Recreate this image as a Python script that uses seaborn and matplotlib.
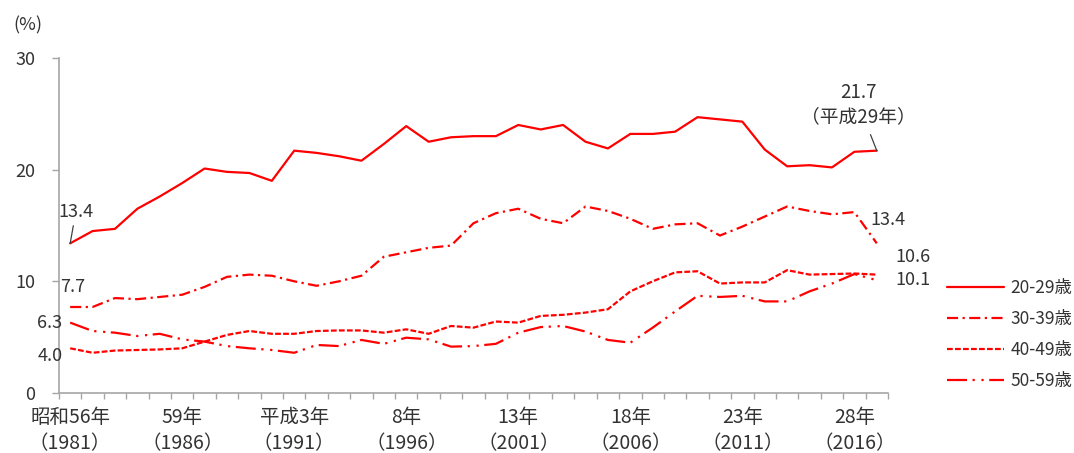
import matplotlib
matplotlib.use("Agg")
import matplotlib.pyplot as plt
import numpy as np
import pandas as pd
import seaborn as sns

# Survey years 1981-2017 (昭和56年 - 平成29年)
years = list(range(1981, 2018))

age_20_29 = [13.4, 14.5, 14.7, 16.5, 17.6, 18.8, 20.1, 19.8, 19.7, 19.0,
             21.7, 21.5, 21.2, 20.8, 22.3, 23.9, 22.5, 22.9, 23.0, 23.0,
             24.0, 23.6, 24.0, 22.5, 21.9, 23.2, 23.2, 23.4, 24.7, 24.5,
             24.3, 21.8, 20.3, 20.4, 20.2, 21.6, 21.7]
age_30_39 = [7.7, 7.7, 8.5, 8.4, 8.6, 8.8, 9.5, 10.4, 10.6, 10.5,
             10.0, 9.6, 10.0, 10.5, 12.2, 12.6, 13.0, 13.2, 15.2, 16.1,
             16.5, 15.6, 15.2, 16.7, 16.3, 15.6, 14.7, 15.1, 15.2, 14.1,
             14.9, 15.8, 16.7, 16.3, 16.0, 16.2, 13.4]
age_40_49 = [4.0, 3.6, 3.8, 3.85, 3.9, 4.0, 4.6, 5.2, 5.55, 5.3,
             5.3, 5.55, 5.6, 5.6, 5.4, 5.7, 5.3, 6.0, 5.85, 6.4,
             6.3, 6.9, 7.0, 7.2, 7.5, 9.1, 10.0, 10.8, 10.9, 9.8,
             9.9, 9.9, 11.0, 10.6, 10.65, 10.7, 10.6]
age_50_59 = [6.3, 5.55, 5.4, 5.1, 5.3, 4.8, 4.6, 4.2, 4.0, 3.85,
             3.6, 4.3, 4.2, 4.75, 4.4, 4.95, 4.8, 4.15, 4.2, 4.4,
             5.4, 5.9, 6.0, 5.5, 4.75, 4.5, 5.85, 7.3, 8.7, 8.6,
             8.7, 8.2, 8.2, 9.1, 9.8, 10.65, 10.1]

groups = ["20-29歳", "30-39歳", "40-49歳", "50-59歳"]
series = [age_20_29, age_30_39, age_40_49, age_50_59]

tick_years = [1981, 1986, 1991, 1996, 2001, 2006, 2011, 2016]
tick_labels = ["昭和56年\n（1981）", "59年\n（1986）", "平成3年\n（1991）",
               "8年\n（1996）", "13年\n（2001）", "18年\n（2006）",
               "23年\n（2011）", "28年\n（2016）"]

# long-form table for seaborn
frames = []
for g, vals in zip(groups, series):
    frames.append(pd.DataFrame({"idx": np.arange(len(years)),
                                "year": years, "value": vals, "group": g}))
df = pd.concat(frames, ignore_index=True)

sns.set_theme(style="white")
plt.rcParams["font.family"] = ["Noto Sans CJK JP", "DejaVu Sans"]

RED = "#FF0000"
TXT = "#333333"
AXC = "#A6A6A6"

fig = plt.figure(figsize=(10.74, 4.53), dpi=100)
ax = fig.add_axes([0.0549, 0.1325, 0.7719, 0.7395])

palette = {g: RED for g in groups}
dashes = {
    "20-29歳": "",
    "30-39歳": (5.0, 2.0, 1.0, 2.0),
    "40-49歳": (2.6, 1.0),
    "50-59歳": (9.0, 2.5, 1.0, 3.0, 1.0, 2.5),
}
sns.lineplot(data=df, x="idx", y="value", hue="group", style="group",
             palette=palette, dashes=dashes, linewidth=1.6, ax=ax,
             hue_order=groups, style_order=groups)

n = len(years)
ax.set_xlim(-0.5, n - 0.5)
ax.set_ylim(0, 30)
ax.set_yticks([0, 10, 20, 30])
ax.set_xticks([years.index(y) for y in tick_years])
ax.set_xticklabels(tick_labels, linespacing=1.3)
ax.set_xticks(np.arange(-0.5, n, 1.0), minor=True)
ax.tick_params(axis="x", which="major", length=0, pad=10, labelsize=14,
               colors=TXT)
ax.tick_params(axis="x", which="minor", length=4, width=1, color=AXC,
               direction="out", bottom=True)
ax.tick_params(axis="y", which="major", length=5, width=1, color=AXC,
               direction="out", left=True, pad=12, labelsize=13,
               labelcolor=TXT)
ax.set_xlabel("")
ax.set_ylabel("")
for side in ("top", "right"):
    ax.spines[side].set_visible(False)
for side in ("left", "bottom"):
    ax.spines[side].set_color(AXC)
    ax.spines[side].set_linewidth(1.2)
ax.grid(False)

ax.text(-0.037, 1.098, "(%)", transform=ax.transAxes, ha="center",
        va="center", fontsize=13, color=TXT)

# value labels
lead = dict(arrowstyle="-", color="#404040", lw=0.9, shrinkA=1, shrinkB=0)
ax.annotate(f"{age_20_29[0]:.1f}", xy=(0, age_20_29[0]), xytext=(0.25, 16.2),
            ha="center", va="center", fontsize=13, color=TXT,
            arrowprops=lead)
last = n - 1
ax.annotate(f"{age_20_29[-1]:.1f}\n（平成29年）", xy=(last, age_20_29[-1]),
            xytext=(35.2, 25.8), ha="center", va="center", fontsize=13.5,
            color=TXT, linespacing=1.2, multialignment="center",
            arrowprops=dict(arrowstyle="-", color="#404040", lw=0.9,
                            shrinkA=3, shrinkB=0))
ax.text(0.1, 9.5, f"{age_30_39[0]:.1f}", ha="center", va="center",
        fontsize=13, color=TXT)
ax.text(-0.9, 6.3, f"{age_50_59[0]:.1f}", ha="center", va="center",
        fontsize=13, color=TXT)
ax.text(-0.9, 3.3, f"{age_40_49[0]:.1f}", ha="center", va="center",
        fontsize=13, color=TXT)
ax.text(36.5, 15.5, f"{age_30_39[-1]:.1f}", ha="center", va="center",
        fontsize=13, color=TXT)
ax.text(37.6, 12.2, f"{age_40_49[-1]:.1f}", ha="center", va="center",
        fontsize=13, color=TXT)
ax.text(37.6, 10.1, f"{age_50_59[-1]:.1f}", ha="center", va="center",
        fontsize=13, color=TXT)

handles, labels = ax.get_legend_handles_labels()
ax.legend_.remove()
fig.legend(handles, labels, loc="center left",
           bbox_to_anchor=(0.8817, 0.2616), frameon=False, fontsize=12.5,
           handlelength=3.3, handletextpad=0.35, labelspacing=0.75,
           borderpad=0, borderaxespad=0, labelcolor=TXT)

fig.savefig("out.png", dpi=100)
